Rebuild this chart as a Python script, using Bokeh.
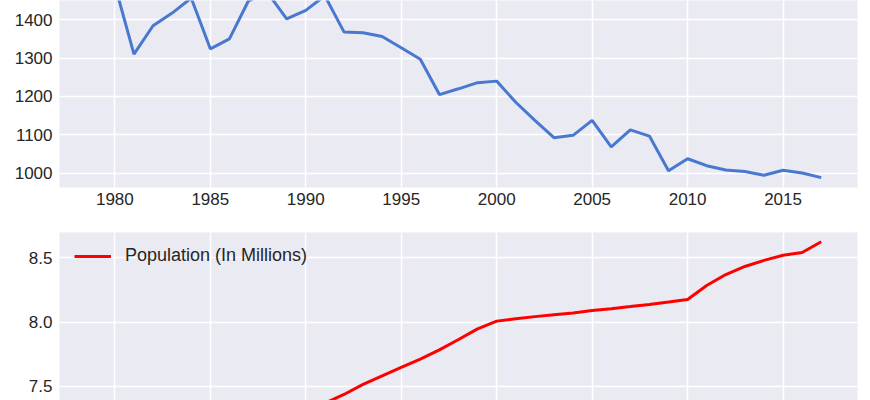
from bokeh.plotting import figure
from bokeh.layouts import column
from bokeh.models import Range1d, FixedTicker, NumeralTickFormatter
from bokeh.embed import file_html
from bokeh.resources import INLINE

years = [1979, 1980, 1981, 1982, 1983, 1984, 1985, 1986, 1987, 1988,
         1989, 1990, 1991, 1992, 1993, 1994, 1995, 1996, 1997, 1998,
         1999, 2000, 2001, 2002, 2003, 2004, 2005, 2006, 2007, 2008,
         2009, 2010, 2011, 2012, 2013, 2014, 2015, 2016, 2017]

top_values = [1510, 1490, 1310, 1384, 1417, 1456, 1324, 1350, 1449, 1470,
              1402, 1424, 1462, 1368, 1366, 1356, 1327, 1297, 1205, 1220,
              1236, 1240, 1185, 1138, 1093, 1099, 1138, 1069, 1113, 1097,
              1007, 1038, 1020, 1009, 1005, 995, 1008, 1001, 989]

population = [7.09, 7.07, 7.09, 7.11, 7.14, 7.16, 7.19, 7.21, 7.24, 7.27,
              7.30, 7.32, 7.37, 7.438, 7.516, 7.583, 7.648, 7.713, 7.785, 7.865,
              7.948, 8.008, 8.027, 8.043, 8.058, 8.072, 8.090, 8.105, 8.121, 8.138,
              8.156, 8.176, 8.285, 8.370, 8.433, 8.480, 8.520, 8.542, 8.625]

x_ticks = [1980, 1985, 1990, 1995, 2000, 2005, 2010, 2015]
top_ticks = [1000, 1100, 1200, 1300, 1400]
pop_ticks = [7.5, 8.0, 8.5]
pop_label = "Population (In Millions)"

BG = "#EAEAF2"
TXT = "#262626"
FONT = "Liberation Sans"


def style(p):
    p.background_fill_color = BG
    p.border_fill_color = "white"
    p.outline_line_color = None
    for g in (p.xgrid, p.ygrid):
        g.grid_line_color = "white"
        g.grid_line_width = 1.5
    for ax in (p.xaxis, p.yaxis):
        ax.axis_line_color = None
        ax.major_tick_line_color = None
        ax.minor_tick_line_color = None
        ax.major_tick_out = 0
        ax.major_tick_in = 0
        ax.minor_tick_out = 0
        ax.major_label_text_font = FONT
        ax.major_label_text_font_size = "17px"
        ax.major_label_text_color = TXT
    p.yaxis.major_label_standoff = 7
    p.xaxis.major_label_standoff = 5


p1 = figure(width=870, height=232, output_backend="svg", toolbar_location=None,
            x_range=Range1d(1977.1, 2018.9), y_range=Range1d(963.3, 1449.7),
            min_border_left=59, min_border_right=13, min_border_top=0,
            min_border_bottom=45)
style(p1)
p1.xaxis.ticker = FixedTicker(ticks=x_ticks)
p1.yaxis.ticker = FixedTicker(ticks=top_ticks)
p1.line(years, top_values, line_color="#4878CF", line_width=3)

p2 = figure(width=870, height=168, output_backend="svg", toolbar_location=None,
            x_range=Range1d(1977.1, 2018.9), y_range=Range1d(7.391, 8.697),
            min_border_left=59, min_border_right=13, min_border_top=0,
            min_border_bottom=0)
style(p2)
p2.xaxis.ticker = FixedTicker(ticks=x_ticks)
p2.xgrid.ticker = FixedTicker(ticks=x_ticks)
p2.yaxis.ticker = FixedTicker(ticks=pop_ticks)
p2.yaxis.formatter = NumeralTickFormatter(format="0.0")
p2.line(years, population, line_color="#FF0000", line_width=3, legend_label=pop_label)
p2.xaxis.visible = False

lg = p2.legend[0]
lg.location = (8, 127)
lg.background_fill_alpha = 0
lg.border_line_alpha = 0
lg.padding = 7
lg.margin = 0
lg.glyph_width = 37
lg.label_standoff = 14
lg.label_text_font = FONT
lg.label_text_font_size = "18px"
lg.label_text_color = TXT

layout = column(p1, p2, spacing=0)
open("out.html", "w").write(file_html(layout, INLINE))
